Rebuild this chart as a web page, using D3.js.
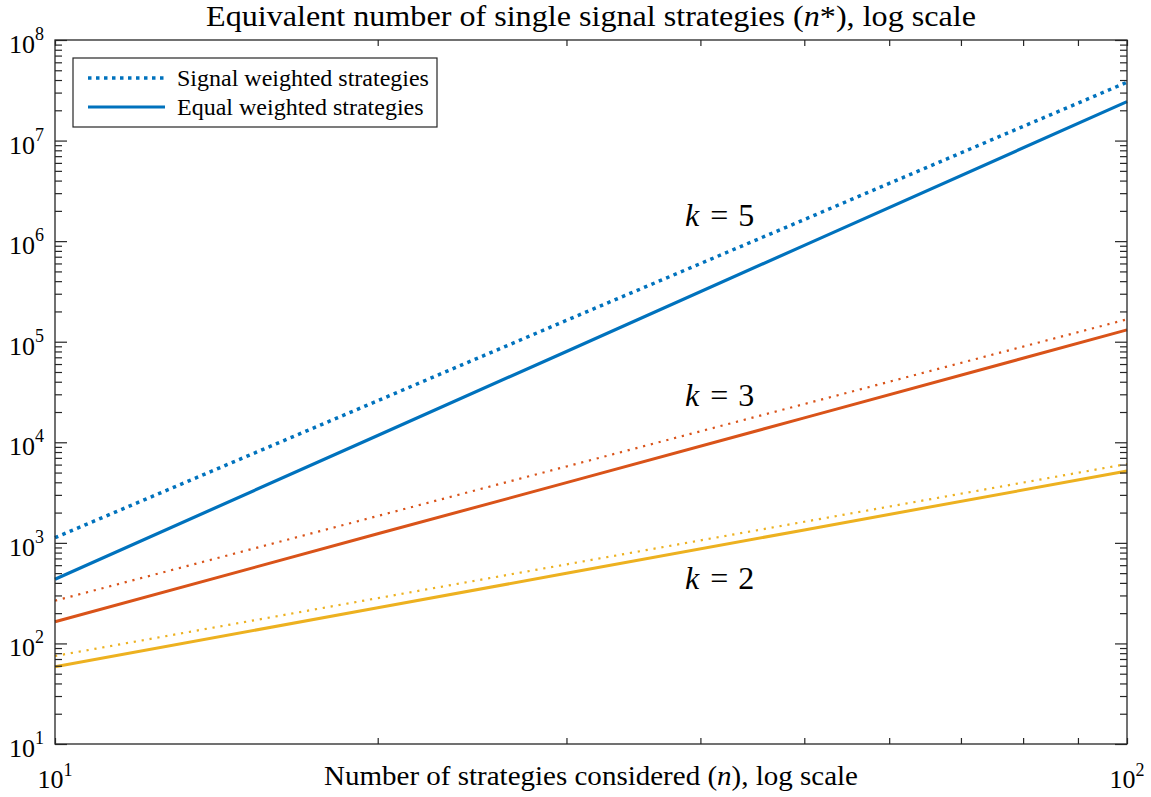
<!DOCTYPE html>
<html>
<head>
<meta charset="utf-8">
<script src="https://cdn.jsdelivr.net/npm/d3@7"></script>
<style>
  body { margin: 0; background: #fff; }
  text, tspan { font-family: "Liberation Serif", "Times New Roman", serif; fill: #000; }
</style>
</head>
<body>
<div id="main-svg"></div>
<script>
// values (log-log plot)
var nVals = [10, 20, 30, 50, 100];
var signalK5 = [1125, 25900, 163000, 1640000, 38000000];
var equalK5 = [434, 11700, 80000, 908000, 24400000];
var signalK3 = [266, 1850, 5750, 24000, 167000];
var equalK3 = [164, 1230, 3970, 17500, 131000];
var signalK2 = [75, 282, 611, 1620, 6085];
var equalK2 = [58.7, 226, 498, 1345, 5180];

var kNames = ["5", "3", "2"];
var kLabelN = [38.7, 38.7, 38.7];
var kLabelV = [1416000, 22960, 348];

var xMajor = [10, 100];
var xMinor = [20, 30, 40, 50, 60, 70, 80, 90];
var yExps = [1, 2, 3, 4, 5, 6, 7, 8];

var width = 1151;
var height = 797;
var margin = {top: 40, right: 24, bottom: 53, left: 55};

var svg = d3.select("#main-svg").append("svg")
  .attr("width", width)
  .attr("height", height);

var x = d3.scaleLog()
  .domain([10, 100])
  .range([margin.left, width - margin.right]);

var y = d3.scaleLog()
  .domain([10, 1e8])
  .range([height - margin.bottom, margin.top]);

var yMajor = yExps.map(e => Math.pow(10, e));
var yMinor = [];
yExps.slice(0, -1).forEach(e => {
  for (var m = 2; m <= 9; m++) yMinor.push(m * Math.pow(10, e));
});

var series = [
  {vals: signalK5, color: "#0072BD", dotted: true, w: 3.5},
  {vals: equalK5, color: "#0072BD", dotted: false, w: 3.2},
  {vals: signalK3, color: "#D95319", dotted: true, w: 2.2},
  {vals: equalK3, color: "#D95319", dotted: false, w: 3},
  {vals: signalK2, color: "#EDB120", dotted: true, w: 2.2},
  {vals: equalK2, color: "#EDB120", dotted: false, w: 3}
];

var line = d3.line()
  .x((d, i) => x(nVals[i]))
  .y(d => y(d));

svg.selectAll("path.series")
  .data(series)
  .enter()
  .append("path")
  .attr("class", "series")
  .attr("d", d => line(d.vals))
  .attr("fill", "none")
  .attr("stroke", d => d.color)
  .attr("stroke-width", d => d.w)
  .attr("stroke-dasharray", d => d.dotted ? (d.w > 3 ? "3.5,4.5" : "2.2,5.8") : null);

// ticks, pointing inward on all four sides
var axisColor = "#262626";
function ticks(axis, vals, len, transform) {
  var g = svg.append("g")
    .attr("transform", transform)
    .call(axis.tickValues(vals).tickSize(-len).tickFormat(""));
  g.select(".domain").remove();
  g.selectAll(".tick line").attr("stroke", axisColor).attr("stroke-width", 1.2);
}
var plotW = width - margin.right - margin.left;
var plotH = height - margin.bottom - margin.top;

ticks(d3.axisBottom(x), xMinor.concat(xMajor), 6, `translate(0,${height - margin.bottom})`);
ticks(d3.axisTop(x), xMinor.concat(xMajor), 6, `translate(0,${margin.top})`);
ticks(d3.axisLeft(y), yMajor, 12, `translate(${margin.left},0)`);
ticks(d3.axisLeft(y), yMinor, 7, `translate(${margin.left},0)`);
ticks(d3.axisRight(y), yMajor, 12, `translate(${width - margin.right},0)`);
ticks(d3.axisRight(y), yMinor, 7, `translate(${width - margin.right},0)`);

svg.append("rect")
  .attr("x", margin.left)
  .attr("y", margin.top)
  .attr("width", plotW)
  .attr("height", plotH)
  .attr("fill", "none")
  .attr("stroke", axisColor)
  .attr("stroke-width", 1.3);

// tick labels 10^k
svg.selectAll("text.ylab")
  .data(yExps)
  .enter()
  .append("text")
  .attr("class", "ylab")
  .attr("x", margin.left - 11)
  .attr("y", d => y(Math.pow(10, d)) + 13)
  .attr("text-anchor", "end")
  .style("font-size", "26px")
  .each(function(d) {
    var t = d3.select(this);
    t.append("tspan").text("10");
    t.append("tspan").attr("dy", -13).style("font-size", "18px").text(d);
  });

svg.selectAll("text.xlab")
  .data(xMajor)
  .enter()
  .append("text")
  .attr("class", "xlab")
  .attr("x", d => x(d))
  .attr("y", height - margin.bottom + 44)
  .attr("text-anchor", "middle")
  .style("font-size", "26px")
  .each(function(d) {
    var t = d3.select(this);
    t.append("tspan").text("10");
    t.append("tspan").attr("dy", -12).style("font-size", "18px").text(Math.round(Math.log10(d)));
  });

// axis label and title
var xl = svg.append("text")
  .attr("x", margin.left + plotW / 2)
  .attr("y", height - margin.bottom + 41)
  .attr("text-anchor", "middle")
  .attr("textLength", 534)
  .attr("lengthAdjust", "spacingAndGlyphs")
  .style("font-size", "28px");
xl.append("tspan").text("Number of strategies considered (");
xl.append("tspan").style("font-style", "italic").text("n");
xl.append("tspan").text("), log scale");

var title = svg.append("text")
  .attr("x", margin.left + plotW / 2)
  .attr("y", 26)
  .attr("text-anchor", "middle")
  .attr("textLength", 770)
  .attr("lengthAdjust", "spacingAndGlyphs")
  .style("font-size", "29px");
title.append("tspan").text("Equivalent number of single signal strategies (");
title.append("tspan").style("font-style", "italic").text("n");
title.append("tspan").text("*), log scale");

// k annotations
kNames.forEach((k, i) => {
  var t = svg.append("text")
    .attr("x", x(kLabelN[i]))
    .attr("y", y(kLabelV[i]))
    .style("font-size", "32px");
  t.append("tspan").style("font-style", "italic").text("k");
  t.append("tspan").attr("dx", 11).text("=");
  t.append("tspan").attr("dx", 10).text(k);
});

// legend
var legend = svg.append("g").attr("transform", "translate(73,58)");
legend.append("rect")
  .attr("width", 364)
  .attr("height", 69)
  .attr("fill", "#fff")
  .attr("stroke", axisColor)
  .attr("stroke-width", 1.2);
var legItems = [
  {label: "Signal weighted strategies", s: series[0]},
  {label: "Equal weighted strategies", s: series[1]}
];
legItems.forEach((d, i) => {
  legend.append("line")
    .attr("x1", 15).attr("x2", 92)
    .attr("y1", 20 + i * 29).attr("y2", 20 + i * 29)
    .attr("stroke", d.s.color)
    .attr("stroke-width", d.s.w)
    .attr("stroke-dasharray", d.s.dotted ? "3.5,4.5" : null);
  legend.append("text")
    .attr("x", 104)
    .attr("y", 28 + i * 29)
    .style("font-size", "24px")
    .text(d.label);
});
</script>
</body>
</html>
